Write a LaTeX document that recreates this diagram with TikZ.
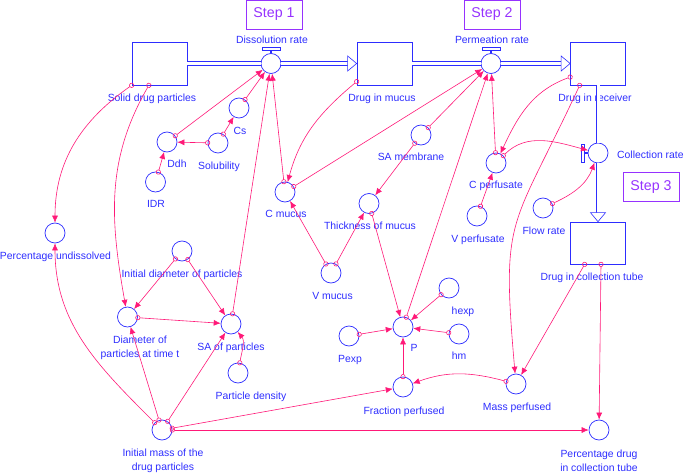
\documentclass[tikz,border=0pt]{standalone}
\usepackage{fontspec}
\setmainfont{Liberation Sans}
\usetikzlibrary{arrows.meta}
\definecolor{simblue}{RGB}{45,45,255}
\definecolor{linkpink}{RGB}{255,25,120}
\definecolor{steppurple}{RGB}{150,50,255}
\tikzset{
  stock/.style={draw=simblue, line width=0.7pt, minimum width=55pt, minimum height=43pt, inner sep=0pt},
  aux/.style={circle, draw=simblue, line width=0.7pt, minimum size=20pt, inner sep=0pt},
  valve/.style={aux, fill=white},
  lbl/.style={text=simblue, font=\fontsize{10.4}{14}\selectfont, inner sep=0pt, text height=7.5pt, text depth=0pt},
  lbltwo/.style={text=simblue, font=\fontsize{10.4}{14}\selectfont, inner sep=0pt, align=center},
  stepbox/.style={draw=steppurple, text=steppurple, line width=0.7pt, minimum width=56pt, minimum height=29pt, inner sep=0pt, font=\fontsize{14.2}{16}\selectfont},
  pipe/.style={draw=simblue, double=white, double distance=3pt, line width=0.6pt},
  pipetip/.style={draw=simblue, fill=white, line width=0.6pt},
  link/.style={draw=linkpink, line width=0.6pt, shorten <=-2.5pt, {Circle[open,length=5pt,width=5pt]}-{Latex[length=7pt,width=6pt]}}
}
\begin{document}
\begin{tikzpicture}[x=1pt,y=1pt]
\useasboundingbox (0,0) rectangle (685,-473);

\node[stepbox] (step1) at (274,-14.5) {Step 1};
\node[stepbox] (step2) at (492,-14.5) {Step 2};
\node[stepbox] (step3) at (651,-187) {Step 3};

\node[stock] (sdp) at (159.5,-63.5) {};
\node[stock] (mucus) at (384.5,-63.5) {};
\node[stock] (recv) at (598,-63.5) {};
\node[stock, minimum height=42pt] (tube) at (598,-243) {};
\node[lbl] (sdptext) at (152,-98) {Solid drug particles};
\node[lbl] (mucustext) at (382,-98) {Drug in mucus};
\node[lbl] (recvtext) at (595,-98) {Drug in receiver};
\node[lbl] (tubetext) at (592,-277) {Drug in collection tube};

\node[valve] (diss) at (271,-63.5) {};
\node[valve] (perm) at (491,-63.5) {};
\node[valve] (colr) at (598,-153) {};
\node[lbl] (disstext) at (272,-40) {Dissolution rate};
\node[lbl] (permtext) at (492,-40) {Permeation rate};
\node[lbl, anchor=west] (colrtext) at (617,-155) {Collection rate};

\draw[pipe] (sdp.east) -- (diss.west);
\draw[pipe] (diss.east) -- ([xshift=-9pt]mucus.west);
\draw[pipetip] (mucus.west) -- ++(-9,7.5) -- ++(0,-15) -- cycle;
\draw[pipe] (mucus.east) -- (perm.west);
\draw[pipe] (perm.east) -- ([xshift=-9pt]recv.west);
\draw[pipetip] (recv.west) -- ++(-9,7.5) -- ++(0,-15) -- cycle;
\draw[pipe] (recv.south) -- (colr.north);
\draw[pipe] (colr.south) -- ([yshift=9pt]tube.north);
\draw[pipetip] (tube.north) -- ++(-7.5,9) -- ++(15,0) -- cycle;

\draw[simblue, line width=1.4pt] (diss.north) -- ++(0,3);
\draw[pipetip] ([shift={(-9,3)}]diss.north) rectangle ++(18,3);
\draw[simblue, line width=1.4pt] (perm.north) -- ++(0,3);
\draw[pipetip] ([shift={(-9,3)}]perm.north) rectangle ++(18,3);
\draw[simblue, line width=1.4pt] (colr.west) -- ++(-3,0);
\draw[pipetip] ([shift={(-6,-9)}]colr.west) rectangle ++(3,18);

\node[aux] (cs) at (239,-108) {};
\node[aux] (sol) at (218,-143) {};
\node[aux] (ddh) at (167,-142) {};
\node[aux] (idr) at (155.5,-182) {};
\node[aux] (cm) at (285,-192) {};
\node[aux] (pu) at (55,-233) {};
\node[aux] (idp) at (182,-251) {};
\node[aux] (dpt) at (127.5,-317) {};
\node[aux] (sap) at (231,-324) {};
\node[aux] (pd) at (238,-373) {};
\node[aux] (im) at (162,-430) {};
\node[aux] (sam) at (421,-135) {};
\node[aux] (thm) at (369,-203.5) {};
\node[aux] (vm) at (331,-273) {};
\node[aux] (cp) at (496,-163) {};
\node[aux] (vp) at (477,-216) {};
\node[aux] (flow) at (543,-208) {};
\node[aux] (hexp) at (449,-288) {};
\node[aux] (hm) at (459,-334) {};
\node[aux] (p) at (403,-327) {};
\node[aux] (pexp) at (349,-336) {};
\node[aux] (fp) at (403,-387) {};
\node[aux] (mp) at (516,-384) {};
\node[aux] (pdt) at (599,-430) {};

\node[lbl] (cstext) at (240,-131) {Cs};
\node[lbl] (soltext) at (219,-165.5) {Solubility};
\node[lbl] (ddhtext) at (177,-164) {Ddh};
\node[lbl] (idrtext) at (156,-203.5) {IDR};
\node[lbl] (cmtext) at (286,-213.5) {C mucus};
\node[lbl] (putext) at (55.5,-256) {Percentage undissolved};
\node[lbl] (idptext) at (182,-274) {Initial diameter of particles};
\node[lbltwo] (dpttext) at (140,-348) {Diameter of\\particles at time t};
\node[lbl] (saptext) at (231,-347) {SA of particles};
\node[lbl] (pdtext) at (251,-396) {Particle density};
\node[lbltwo] (imtext) at (163,-461) {Initial mass of the\\drug particles};
\node[lbl] (samtext) at (411,-157) {SA membrane};
\node[lbl] (thmtext) at (370,-226) {Thickness of mucus};
\node[lbl] (vmtext) at (332.5,-296) {V mucus};
\node[lbl] (cptext) at (496,-185) {C perfusate};
\node[lbl] (vptext) at (478,-239) {V perfusate};
\node[lbl] (flowtext) at (544,-231) {Flow rate};
\node[lbl] (hexptext) at (463,-311) {hexp};
\node[lbl] (hmtext) at (459,-356) {hm};
\node[lbl] (ptext) at (414,-348) {P};
\node[lbl] (pexptext) at (350,-359) {Pexp};
\node[lbl] (fptext) at (404,-411) {Fraction perfused};
\node[lbl] (mptext) at (517,-407) {Mass perfused};
\node[lbltwo] (pdttext) at (599,-461) {Percentage drug\\in collection tube};

\draw[link] (sdp.south west) to[out=215,in=90] (pu);
\draw[link] (sdp.244) to[out=240,in=100] (dpt);
\draw[link] (ddh) -- (diss);
\draw[link] (cs) -- (diss);
\draw[link] (sol) -- (ddh);
\draw[link] (sol) -- (cs);
\draw[link] (idr) -- (ddh);
\draw[link] (cm) -- (diss);
\draw[link] (sap) -- (diss);
\draw[link] (mucus.213) to[out=220,in=75] (cm);
\draw[link] (cm) -- (perm);
\draw[link] (sam) -- (perm);
\draw[link] (sam) -- (thm);
\draw[link] (vm) -- (cm);
\draw[link] (vm) -- (thm);
\draw[link] (thm) -- (p);
\draw[link] (p) -- (perm);
\draw[link] (cp) -- (perm);
\draw[link] (recv.206) to[out=200,in=65] (cp);
\draw[link] (cp) to[out=45,in=165] (colr);
\draw[link] (flow) to[out=25,in=250] (colr);
\draw[link] (vp) -- (cp);
\draw[link] (recv.230) to[out=245,in=95,looseness=1.4] (mp);
\draw[link] (tube.238) -- (mp);
\draw[link] (tube.278) -- (pdt);
\draw[link] (mp) to[out=165,in=20] (fp);
\draw[link] (fp) -- (p);
\draw[link] (pexp) -- (p);
\draw[link] (hexp) -- (p);
\draw[link] (hm) -- (p);
\draw[link] (idp) -- (dpt);
\draw[link] (idp) -- (sap);
\draw[link] (dpt) -- (sap);
\draw[link] (pd) to[out=80,in=-50] (sap);
\draw[link] (im) to[out=135,in=270] (pu);
\draw[link] (im) -- (dpt);
\draw[link] (im) -- (sap);
\draw[link] (im) -- (fp);
\draw[link] (im) -- (pdt);
\end{tikzpicture}
\end{document}
